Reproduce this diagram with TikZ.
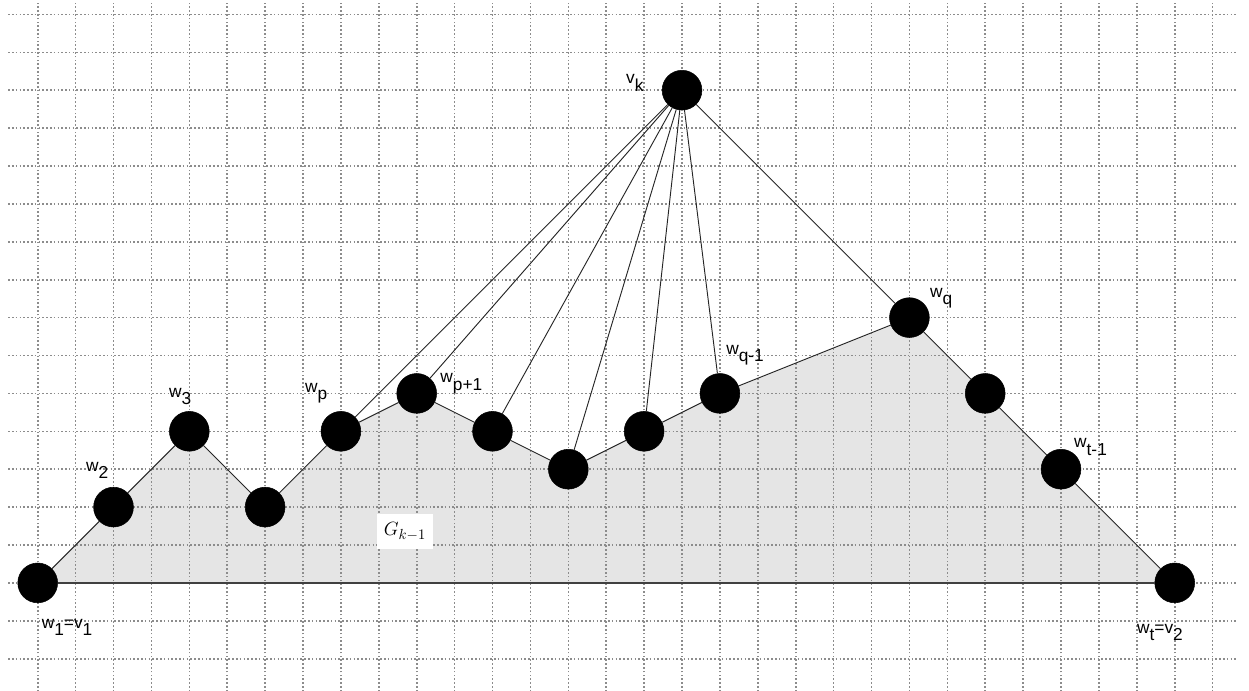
\documentclass[tikz,border=0pt]{standalone}
\usepackage{fontspec}
\usepackage{tikz}
\usetikzlibrary{positioning, backgrounds}
\newfontfamily\lblfont{Liberation Sans}
\newcommand{\lowr}[1]{\raisebox{-5.5pt}{#1}}

\begin{document}
\begin{tikzpicture}[
    vtx/.style={draw=black, fill=black, circle, minimum size=1.05cm, inner sep=0pt},
    lbl/.style={anchor=base west, inner sep=0pt, font=\lblfont\fontsize{13}{15}\selectfont},
    edge/.style={line width=0.7pt, black!85},
    base/.style={line width=1.1pt, gray!50!black},
    gridline/.style={gray!90, line width=1.2pt, dash pattern=on 1.2pt off 1.65pt},
    region/.style={fill=gray!20}]
    \useasboundingbox (-0.995,-2.85) rectangle (31.96,15.38);
    % vertices
    \node[vtx] (W1)  at (0,0)  {};
    \node[vtx] (W2)  at (2,2)  {};
    \node[vtx] (W3)  at (4,4)  {};
    \node[vtx] (W4)  at (6,2)  {};
    \node[vtx] (Wp)  at (8,4)  {};
    \node[vtx] (Wp1) at (10,5) {};
    \node[vtx] (Wa)  at (12,4) {};
    \node[vtx] (Wb)  at (14,3) {};
    \node[vtx] (Wc)  at (16,4) {};
    \node[vtx] (Wq1) at (18,5) {};
    \node[vtx] (Wq)  at (23,7) {};
    \node[vtx] (Wd)  at (25,5) {};
    \node[vtx] (Wt1) at (27,3) {};
    \node[vtx] (Wt)  at (30,0) {};
    \node[vtx] (Vk)  at (17,13) {};
    % shaded G_{k-1} and grid
    \begin{pgfonlayer}{background}
        \fill[region] (W1.center) -- (W2.center) -- (W3.center) -- (W4.center) -- (Wp.center)
            -- (Wp1.center) -- (Wa.center) -- (Wb.center) -- (Wc.center) -- (Wq1.center)
            -- (Wq.center) -- (Wd.center) -- (Wt1.center) -- (Wt.center) -- cycle;
        \foreach \i in {0,...,31}
            \draw[gridline] (\i,-2.86) -- (\i,15.29);
        \foreach \j in {-2,...,15}
            \draw[gridline] (-0.78,\j) -- (31.67,\j);
    \end{pgfonlayer}
    \node[fill=white, minimum width=1.48cm, minimum height=0.92cm, font=\fontsize{15.5}{18}\selectfont] (G) at (9.69,1.35) {$G_{k-1}$};
    % labels
    \node[lbl] (lW1)  at (0.1,-1.19)   {w\lowr{1}=v\lowr{1}};
    \node[lbl] (lW2)  at (1.27,2.94)   {w\lowr{2}};
    \node[lbl] (lW3)  at (3.46,4.89)   {w\lowr{3}};
    \node[lbl] (lWp)  at (7.05,5.02)   {w\lowr{p}};
    \node[lbl] (lWp1) at (10.62,5.28)  {w\lowr{p+1}};
    \node[lbl] (lWq1) at (18.16,6.03)  {w\lowr{q-1}};
    \node[lbl] (lWq)  at (23.54,7.53)  {w\lowr{q}};
    \node[lbl] (lWt1) at (27.34,3.56)  {w\lowr{t-1}};
    \node[lbl] (lWt)  at (29.0,-1.33)  {w\lowr{t}=v\lowr{2}};
    \node[lbl] (lVk)  at (15.52,13.17) {v\lowr{k}};
    % outer face
    \draw[edge] (W1) -- (W2);
    \draw[edge] (W2) -- (W3);
    \draw[edge] (W3) -- (W4);
    \draw[edge] (W4) -- (Wp);
    \draw[edge] (Wp) -- (Wp1);
    \draw[edge] (Wp1) -- (Wa);
    \draw[edge] (Wa) -- (Wb);
    \draw[edge] (Wb) -- (Wc);
    \draw[edge] (Wc) -- (Wq1);
    \draw[edge] (Wq1) -- (Wq);
    \draw[edge] (Wq) -- (Wd);
    \draw[edge] (Wd) -- (Wt1);
    \draw[edge] (Wt1) -- (Wt);
    \draw[base] (W1) -- (Wt);
    % edges of v_k
    \foreach \w in {Wp, Wp1, Wa, Wb, Wc, Wq1, Wq}
        \draw[edge] (Vk) -- (\w);
\end{tikzpicture}
\end{document}
